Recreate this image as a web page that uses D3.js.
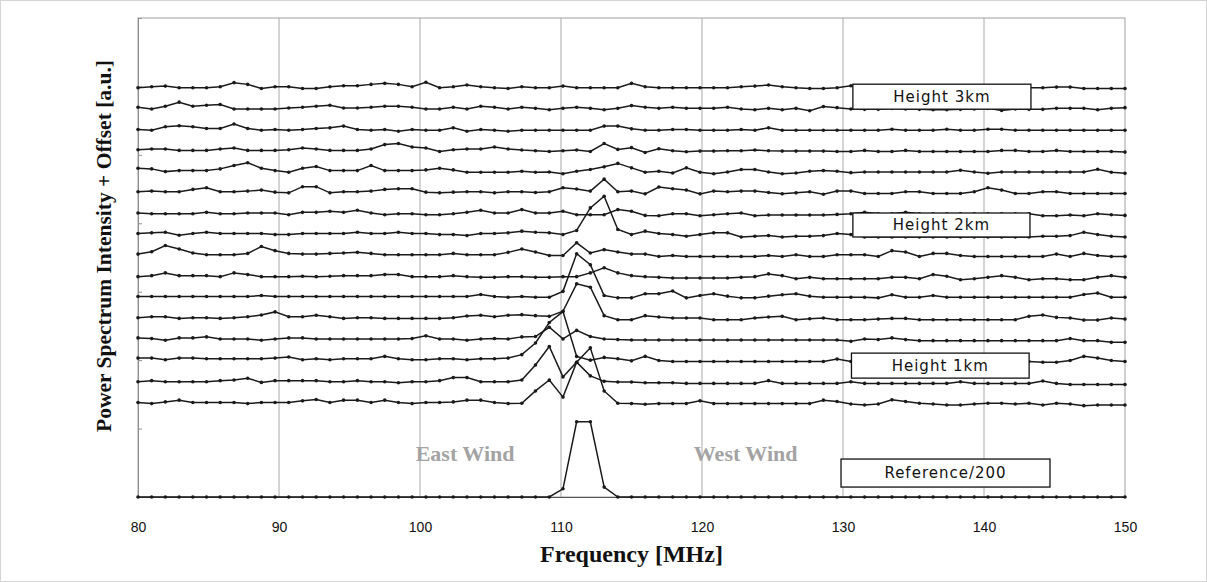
<!DOCTYPE html>
<html><head><meta charset="utf-8">
<script src="https://cdn.jsdelivr.net/npm/d3@7"></script>
<style>body{margin:0;background:#fff;}svg{display:block;}</style>
</head><body>
<svg id="c" width="1207" height="582"></svg>
<script>
// ---------------- data ----------------
const freqs = [80.00,80.97,81.94,82.92,83.89,84.86,85.83,86.81,87.78,88.75,89.72,90.69,91.67,92.64,93.61,94.58,95.56,96.53,97.50,98.47,99.44,100.42,101.39,102.36,103.33,104.31,105.28,106.25,107.22,108.19,109.17,110.14,111.11,112.08,113.06,114.03,115.00,115.97,116.94,117.92,118.89,119.86,120.83,121.81,122.78,123.75,124.72,125.69,126.67,127.64,128.61,129.58,130.56,131.53,132.50,133.47,134.44,135.42,136.39,137.36,138.33,139.31,140.28,141.25,142.22,143.19,144.17,145.14,146.11,147.08,148.06,149.03,150.00];
const xTicks = [80,90,100,110,120,130,140,150];
const yTicks = [0,10,20,30,40,50,60,70];
// vertical offsets of the height traces, top (3 km) to bottom
const offsets = [59.8,56.8,53.6,50.7,47.7,44.6,41.4,38.5,35.4,32.2,29.3,26.2,23.1,20.2,16.8,13.7];
const row1 = [0,0.15,0.25,0,0,0,0.15,0.75,0.5,-0.1, 0.15,0.15,-0.1,-0.1,0.15,0.3,0.3,0.5,0.65,0.5, 0.15,0.8,0,0.15,0.4,0.15,0,-0.1,0.15,0, 0,0.25,0,0,0,0,0.65,0.15,0,0, 0,0,0,0,0.15,0.25,0.4,0.15,0,-0.1, -0.1,0,0.3,0,0,0,0,0,0,0, 0,0,0,0,0,0,0,0.1,0.1,-0.1, -0.1,-0.1,-0.1];
const row2 = [0.15,-0.1,0.3,0.9,0.3,0.45,0.55,-0.1,-0.1,-0.1, -0.1,0.05,0.15,0.3,0.45,0.05,0.05,0.15,0.3,0.3, 0.15,-0.1,-0.1,0.15,-0.1,0.3,0.15,-0.1,0.15,0, -0.2,0,0.15,0,-0.2,0,0.4,0.15,0,0.15, 0,0,0,0.15,-0.1,-0.2,0,-0.2,0,-0.35, 0.25,0.1,-0.1,-0.15,-0.15,0,-0.1,-0.15,-0.2,-0.2, -0.15,-0.1,0,-0.3,-0.1,-0.15,-0.15,0,0,0, -0.2,0,0.1];
const row3 = [0.1,0,0.5,0.65,0.5,0.25,0.25,0.9,0.25,0, 0.1,0,0.1,0.25,0.35,0.6,0.1,0,0.1,-0.15, 0.1,0,0,0.35,-0.15,0.1,0,-0.15,0,0, 0,0,0,0,0.6,0.6,0.2,0,0,0.1, 0.1,0,0,0,0.1,0,0.35,0,0,0, 0,0,0,0,0,0.15,0,0,0,0.15, 0,0,0.15,0.15,0,0,0,0,0,0, 0,0,0];
const row4 = [0.05,0.15,0.15,-0.05,-0.05,-0.05,0.15,0.3,-0.05,-0.05, -0.05,0.05,0.3,0.15,-0.05,-0.05,-0.05,0.15,0.8,0.95, 0.45,0.3,-0.2,0.05,0.15,0.15,0.45,0.15,0,-0.1, -0.2,-0.1,0,-0.2,0.95,0.1,0.35,-0.35,0.2,-0.1, -0.25,-0.15,-0.15,-0.1,-0.1,0,-0.1,-0.15,-0.15,-0.15, -0.15,-0.2,-0.2,-0.05,-0.2,-0.2,-0.05,-0.2,-0.2,-0.2, -0.2,-0.2,-0.2,-0.05,-0.05,-0.2,-0.2,-0.05,-0.2,-0.2, -0.2,-0.2,-0.3];
const row5 = [0.35,0.25,-0.15,0,0,0,0.25,0.75,1.15,0.35, 0,-0.25,0.35,0.6,0,0,0,0.75,0,0, 0,0.1,0.35,0.1,-0.25,-0.25,-0.25,-0.25,-0.1,-0.25, -0.2,-0.45,-0.1,0.15,0.55,1.05,0.4,-0.25,-0.1,-0.35, 0.4,-0.25,-0.45,-0.2,0.15,0.15,-0.2,-0.45,-0.35,-0.1, 0,-0.1,-0.3,-0.2,-0.2,-0.2,-0.2,-0.2,-0.2,-0.2, 0.05,-0.2,-0.4,-0.2,-0.2,-0.2,-0.2,-0.2,-0.2,-0.2, 0.2,-0.25,-0.4];
const row6 = [0,0.1,0,0,0.35,0.6,0,0,0.1,0.25, -0.05,-0.15,0.75,0.75,-0.15,0,0,0.1,0.35,0.45, 0.45,-0.05,-0.15,-0.05,0,0,-0.15,0,0,-0.1, 0,0.6,0.4,0.1,1.85,0,0.1,-0.3,0.7,0.45, 0.25,-0.3,0.1,0,0.1,0.1,-0.1,-0.3,-0.15,0, -0.35,0.1,0.1,-0.25,-0.25,-0.25,0,0,-0.25,-0.25, -0.25,0,0.6,0.25,-0.25,-0.25,0,0,-0.25,-0.25, -0.25,-0.25,-0.25];
const row7 = [0.1,0,0,0,0,0.2,0,0,0.1,0.1, 0.1,-0.15,0.2,0.2,0.35,0.2,0.5,0.1,-0.15,0, 0,-0.15,-0.15,0,0.2,0.5,0.1,0.1,0.6,0.1, 0.1,0.35,-0.15,-0.15,-0.15,0.6,0.35,-0.25,-0.3,0, 0,-0.3,-0.15,0,0.1,-0.3,-0.2,-0.2,-0.2,-0.2, -0.2,-0.1,0,0.2,0,0,0.2,0,0,0, 0,0,0,0,0,0,-0.3,-0.3,-0.2,-0.3, 0,-0.15,-0.25];
const row8 = [0,0.1,0.2,-0.25,0,0.2,0,0,0,0, -0.15,-0.15,0,0,0,0,0.2,0,0,0.2, 0,0,-0.15,-0.15,-0.3,0,0,0.1,0.35,0.2, 0.1,-0.15,0.45,3.75,5.45,0.6,-0.15,0.35,0,-0.15, -0.4,-0.15,0.1,0.1,-0.5,-0.4,-0.3,-0.5,-0.4,-0.4, -0.3,0,-0.15,-0.5,-0.5,-0.5,-0.5,-0.5,-0.5,-0.5, -0.5,-0.5,-0.5,-0.5,-0.5,-0.5,-0.4,-0.4,-0.3,0.2, -0.15,-0.4,-0.5];
const row9 = [0.1,0.45,1.35,0.85,0.25,0,0,0,0.2,1.2, 0.6,0.2,0.1,0.1,0.2,0.25,0.35,0.2,0,0, 0,0,0,0.2,0,0,0,0.35,0.85,0.4, -0.1,-0.1,1.75,0.25,0.75,0.4,0.1,0.1,-0.25,-0.1, -0.25,-0.25,-0.25,-0.25,-0.25,-0.25,-0.1,-0.25,0,-0.25, -0.25,0,0,0,-0.25,0.6,0.4,-0.25,0.2,0.2, -0.1,-0.25,-0.25,-0.25,-0.25,-0.25,-0.25,0.1,-0.25,0.2, -0.1,-0.25,-0.25];
const row10 = [0,0.15,0.55,0.15,0.15,0.15,0,0.55,0.3,0, 0,0,0.05,0,0.05,0.15,0.15,0.15,0.3,0.3, 0,0,0,0.15,0,-0.1,-0.1,0,0,-0.1, -0.1,0,0,0.55,1.3,0.55,0.15,0,-0.1,-0.2, -0.2,-0.2,-0.2,-0.2,-0.1,0,0.4,0.15,-0.3,-0.1, -0.3,-0.3,-0.3,-0.3,-0.3,-0.1,-0.1,-0.3,0.3,0.05, -0.45,-0.3,-0.1,0.15,-0.1,-0.45,-0.3,-0.3,-0.45,-0.45, -0.1,0.15,-0.1];
const row11 = [0,0,0,0,0,0,0,0,0,0.15, 0,0,0,0,0,0,0,0,0,0, 0,0,0,0,0,0.3,0,-0.1,0,-0.1, -0.1,0.75,6.25,4.65,0.15,-0.2,-0.2,0.4,0.4,0.8, -0.2,0.15,0.4,0.05,-0.2,-0.2,0.05,0.25,0.4,0.05, -0.1,-0.1,-0.1,-0.1,-0.2,0.25,-0.1,-0.1,0.15,-0.1, -0.1,-0.1,-0.1,-0.1,-0.1,-0.1,-0.1,-0.1,-0.1,0.3, 0.5,-0.1,-0.1];
const row12 = [0,0.15,0.15,-0.1,0,0,-0.1,0,0.15,0.4, 0.85,0.15,0.15,0.35,0.15,-0.1,0,0,-0.1,-0.1, -0.1,-0.1,-0.1,0,0.25,0.35,0.15,0.35,0.45,0.3, 0.2,0.95,4.95,4.45,0.3,-0.3,-0.3,0.3,0.1,-0.05, -0.05,-0.05,-0.3,-0.3,-0.3,-0.05,0.1,0.2,-0.3,-0.15, -0.05,-0.3,-0.3,-0.3,-0.2,-0.1,-0.1,-0.3,-0.3,-0.3, -0.3,-0.3,-0.3,-0.3,-0.3,0.2,0.4,0.05,-0.05,-0.35, -0.35,-0.05,-0.2];
const row13 = [0.15,0.05,-0.2,0.15,0.15,0.3,0,0,0,-0.2, 0,0.15,0.15,0,0,0,0,0,0,0, 0.05,0.45,0,0,-0.2,0,0.05,0,0.3,0.35, 1.7,0,1.25,0.35,0,-0.1,-0.15,-0.15,-0.15,-0.15, -0.15,-0.15,-0.15,-0.15,-0.15,-0.15,-0.15,-0.15,-0.15,-0.15, -0.15,-0.15,-0.35,0,-0.1,0.15,-0.1,-0.25,-0.25,-0.25, -0.25,-0.25,-0.25,-0.25,-0.25,-0.25,-0.25,-0.25,0.05,-0.25, -0.25,-0.5,-0.5];
const row14 = [0.1,0.1,-0.15,0.1,0.1,0,0,0,0,0, 0.1,0.25,-0.15,0,-0.15,0,0,0,0.35,0, -0.15,-0.15,0,0,-0.15,0,0,0.1,0.6,2.3, 5.3,6.9,0.35,-0.2,0.2,0,-0.3,0.35,-0.25,-0.4, -0.4,-0.4,-0.4,-0.4,-0.4,-0.4,-0.4,-0.4,-0.4,-0.4, -0.4,-0.05,-0.4,-0.4,-0.4,-0.4,-0.4,-0.4,-0.4,-0.4, -0.4,-0.4,-0.4,-0.4,-0.4,-0.4,-0.5,-0.5,-0.25,0.35, 0.1,-0.25,-0.4];
const row15 = [0.05,0.2,0.05,0.05,0.05,0.05,0.2,0.3,0.55,-0.05, 0.2,0.2,0.2,0.2,0.05,0.05,0.2,0.05,0.05,-0.1, 0.05,0.05,0.2,0.65,0.65,0.05,0.05,0.05,0.3,2.5, 5.2,0.75,2.9,0.9,0.1,0,0,-0.1,-0.1,-0.1, -0.2,-0.2,-0.2,-0.2,-0.2,-0.2,0.2,-0.2,-0.2,-0.2, -0.2,-0.2,0.05,-0.2,-0.2,-0.2,-0.2,-0.2,-0.2,-0.2, 0.05,-0.2,-0.2,-0.2,-0.2,-0.2,0.15,-0.2,-0.35,-0.35, -0.35,-0.35,-0.35];
const row16 = [0.1,-0.05,0.2,0.45,0.1,0.1,0.1,0.1,-0.05,0.1, 0.1,0.1,0.35,0.55,0.1,0.45,0.45,0.1,0.45,0.1, -0.05,0.1,0.1,0.2,0.45,0.45,0.1,-0.05,0,1.8, 3.4,0.9,6.0,8.1,1.8,0,-0.05,-0.15,-0.05,-0.05, -0.05,0.35,-0.05,-0.05,-0.05,-0.05,-0.05,-0.05,-0.05,-0.05, 0.45,0.25,-0.1,-0.25,-0.1,0.5,0.25,0,-0.1,-0.25, -0.25,-0.1,0,0,-0.1,0,-0.25,0,-0.1,-0.35, -0.25,-0.25,-0.25];
const reference = [0,0,0,0,0,0,0,0,0,0, 0,0,0,0,0,0,0,0,0,0, 0,0,0,0,0,0,0,0,0,0, 0,1.2,11.0,11.0,1.45,0,0,0,0,0, 0,0,0,0,0,0,0,0,0,0, 0,0,0,0,0,0,0,0,0,0, 0,0,0,0,0,0,0,0,0,0, 0,0,0];
const boxLabels = ["Height 3km","Height 2km","Height 1km","Reference/200"];
const windLabels = ["East Wind","West Wind"];

// ---------------- drawing ----------------
const svg = d3.select("#c");
const x = d3.scaleLinear().domain([80,150]).range([138,1125]);
const y = d3.scaleLinear().domain([0,70]).range([497,18]);

svg.append("rect").attr("x",0.5).attr("y",0.5).attr("width",1206).attr("height",581)
  .attr("fill","#fff").attr("stroke","#d4d4d4");

// gridlines
svg.append("g").selectAll("line").data(xTicks.slice(1,-1)).join("line")
  .attr("x1",d=>x(d)).attr("x2",d=>x(d)).attr("y1",y(70)).attr("y2",y(0))
  .attr("stroke","#a8a8a8").attr("stroke-width",1);
// frame
svg.append("rect").attr("x",x(80)).attr("y",y(70)).attr("width",x(150)-x(80)).attr("height",y(0)-y(70))
  .attr("fill","none").attr("stroke","#a0a0a0").attr("stroke-width",1);

// y axis (inner ticks, no labels)
const yAxis = d3.axisLeft(y).tickValues(yTicks).tickSize(-4).tickFormat("");
const gy = svg.append("g").attr("transform",`translate(${x(80)},0)`).call(yAxis);
gy.selectAll("path,line").attr("stroke","#909090");

// x axis
const xAxis = d3.axisBottom(x).tickValues(xTicks).tickSize(0).tickPadding(22);
const gx = svg.append("g").attr("transform",`translate(0,${y(0)})`).call(xAxis);
gx.select(".domain").attr("stroke","#555");
gx.selectAll("text").attr("font-family","'Liberation Sans', Arial, sans-serif").attr("font-size",14).attr("fill","#111")
  .attr("dy","0.35em").attr("y",30);

const rows = [row1,row2,row3,row4,row5,row6,row7,row8,row9,row10,row11,row12,row13,row14,row15,row16];
const series = rows.map((r,i)=>r.map((v,k)=>({f:freqs[k], v:v+offsets[i]})));
series.push(reference.map((v,k)=>({f:freqs[k], v:v})));

const line = d3.line().x(d=>x(d.f)).y(d=>y(d.v));
const gl = svg.append("g");
series.forEach(s=>{
  gl.append("path").datum(s).attr("d",line).attr("fill","none").attr("stroke","#1a1a1a")
    .attr("stroke-width",1.5).attr("stroke-linejoin","miter");
  gl.append("g").selectAll("circle").data(s).join("circle")
    .attr("cx",d=>x(d.f)).attr("cy",d=>y(d.v)).attr("r",1.8).attr("fill","#1a1a1a");
});

// label boxes (positioned in data coordinates)
const boxSpec = [
  {f0:130.7,f1:143.33,v:58.5,h:25},
  {f0:130.7,f1:143.26,v:39.75,h:24},
  {f0:130.6,f1:143.2,v:19.2,h:25},
  {f0:129.86,f1:144.68,v:3.5,h:28}
];
boxSpec.forEach((b,i)=>{
  const cx = (x(b.f0)+x(b.f1))/2, cy = y(b.v);
  svg.append("rect").attr("x",x(b.f0)).attr("y",cy-b.h/2).attr("width",x(b.f1)-x(b.f0)).attr("height",b.h)
    .attr("fill","#fff").attr("stroke","#111").attr("stroke-width",1.3);
  svg.append("text").attr("x",cx).attr("y",cy).attr("dy","0.36em").attr("text-anchor","middle")
    .attr("font-family","'DejaVu Sans', sans-serif").attr("font-size",15).attr("letter-spacing","1px")
    .attr("fill","#111").text(boxLabels[i]);
});

// wind labels
[[103.2,6.4],[123.1,6.4]].forEach((p,i)=>{
  svg.append("text").attr("x",x(p[0])).attr("y",y(p[1])).attr("text-anchor","middle").attr("dy","0.35em")
    .attr("font-family","'Liberation Serif', 'Times New Roman', serif").attr("font-weight","bold")
    .attr("font-size",22).attr("fill","#a3a3a3").text(windLabels[i]);
});

// axis titles
svg.append("text").attr("x",(x(80)+x(150))/2).attr("y",562).attr("text-anchor","middle")
  .attr("font-family","'Liberation Serif', 'Times New Roman', serif").attr("font-weight","bold")
  .attr("font-size",24).attr("fill","#111").text("Frequency [MHz]");
svg.append("text").attr("transform","translate(111,246) rotate(-90)").attr("text-anchor","middle")
  .attr("font-family","'Liberation Serif', 'Times New Roman', serif").attr("font-weight","bold")
  .attr("font-size",21.5).attr("fill","#111").text("Power Spectrum Intensity + Offset [a.u.]");
</script>
</body></html>
